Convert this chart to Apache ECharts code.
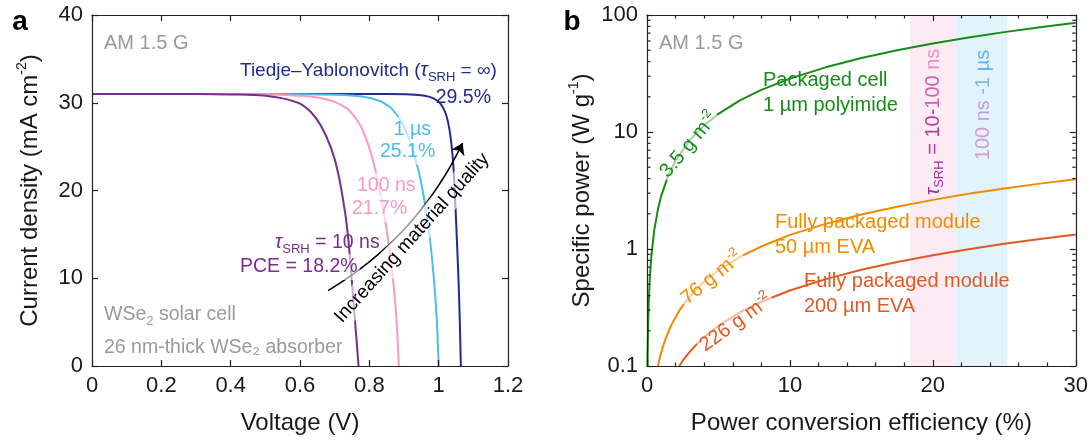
<!DOCTYPE html>
<html>
<head>
<meta charset="UTF-8">
<title>WSe2 solar cell</title>
<script src="https://cdn.jsdelivr.net/npm/echarts@6/dist/echarts.min.js"></script>
<style>html,body{margin:0;background:#fff}</style>
</head>
<body>
<div id="main" style="width:1091px;height:443px;"></div>
<script>
// panel a : J-V curves, [voltage V, current density mA cm-2]
var jvTau10ns = [[0,31.0],[0.3,31.0],[0.4,30.95],[0.45,30.9],[0.5,30.8],[0.55,30.5],[0.6,29.9],[0.63,29.0],[0.66,27.4],[0.69,24.8],[0.71,22.0],[0.73,17.5],[0.74,14.2],[0.75,9.5],[0.76,4.5],[0.769,0]];
var jvTau100ns = [[0,31.0],[0.4,31.0],[0.5,30.95],[0.6,30.8],[0.65,30.6],[0.7,30.1],[0.74,29.2],[0.77,27.7],[0.79,26.0],[0.81,23.5],[0.83,20.0],[0.85,15.5],[0.865,11.0],[0.875,7.0],[0.881,3.5],[0.885,0]];
var jvTau1us = [[0,31.0],[0.5,31.0],[0.7,30.9],[0.78,30.7],[0.83,30.2],[0.86,29.5],[0.89,28.0],[0.91,26.4],[0.93,24.0],[0.95,20.8],[0.97,16.0],[0.985,10.5],[0.995,5.0],[1.0,0]];
var jvTY = [[0,31.0],[0.85,31.0],[0.92,30.95],[0.96,30.8],[0.985,30.5],[1.005,29.9],[1.02,28.8],[1.03,27.2],[1.037,25.2],[1.043,22.5],[1.048,18.5],[1.053,14.0],[1.058,9.0],[1.061,5.0],[1.064,0]];
var qualityArrow = [[0.681, 8.6], [1.069, 25.4]];

// panel b : specific power, [PCE %, W g-1]
var spCell = [[0.035,0.1],[0.05,0.143],[0.08,0.229],[0.12,0.343],[0.2,0.571],[0.3,0.857],[0.5,1.43],[0.75,2.14],[1,2.86],[1.5,4.29],[2,5.71],[3,8.57],[4,11.4],[5,14.3],[6.5,18.6],[8,22.9],[10,28.6],[12.5,35.7],[15,42.9],[17.5,50],[20,57.1],[22.5,64.3],[25,71.4],[27.5,78.6],[30,85.7]];
var spModule50 = [[0.76,0.1],[0.9,0.118],[1.1,0.145],[1.4,0.184],[1.8,0.237],[2.3,0.303],[3,0.395],[4,0.526],[5,0.658],[6.5,0.855],[8,1.05],[10,1.32],[12.5,1.64],[15,1.97],[17.5,2.3],[20,2.63],[22.5,2.96],[25,3.29],[27.5,3.62],[30,3.95]];
var spModule200 = [[2.26,0.1],[2.5,0.111],[2.9,0.128],[3.4,0.15],[4,0.177],[5,0.221],[6.5,0.288],[8,0.354],[10,0.442],[12.5,0.553],[15,0.664],[17.5,0.774],[20,0.885],[22.5,0.996],[25,1.11],[27.5,1.22],[30,1.33]];
var bandTau10to100ns = [18.4, 21.6];
var bandTau100nsTo1us = [21.6, 25.2];
var logMinorTicks = [0.2,0.3,0.4,0.5,0.6,0.7,0.8,0.9,2,3,4,5,6,7,8,9,20,30,40,50,60,70,80,90];

var FONT = 'Liberation Sans';
var INK = '#1a1a1a';
var GRAY = '#9a9a9a';
var C = {
  navy: '#1f2d8c', cyan: '#4fbdec', pink: '#f79ac6', purple: '#7b2c8f',
  green: '#168c16', orange: '#f08c00', red: '#df5a24'
};

var chart = echarts.init(document.getElementById('main'));

var richBase = {
  t: {fontStyle: 'italic', fontFamily: FONT, fontSize: 19.5, lineHeight: 26},
  s: {fontSize: 13, lineHeight: 13, verticalAlign: 'bottom', fontFamily: FONT},
  p: {fontSize: 13, lineHeight: 13, verticalAlign: 'top', fontFamily: FONT}
};

function frameAxes(gridIdx, pos, extra) {
  var o = {
    gridIndex: gridIdx, position: pos, z: 5,
    axisLine: {show: true, onZero: false, lineStyle: {color: '#222', width: 1.2}},
    axisTick: {show: true, inside: true, length: 6, lineStyle: {color: '#222', width: 1.2}},
    splitLine: {show: false},
    axisLabel: {show: false}
  };
  for (var k in extra) o[k] = extra[k];
  return o;
}
var tickLabel = {show: true, fontSize: 22, color: INK, fontFamily: FONT, margin: 9};
var nameStyle = {
  fontSize: 24, color: INK, fontFamily: FONT, lineHeight: 30,
  rich: {p: {fontSize: 14, lineHeight: 14, verticalAlign: 'top', fontFamily: FONT, color: INK}}
};

function txt(x, y, text, color, opts) {
  opts = opts || {};
  return {
    type: 'text', x: x, y: y, rotation: opts.rot || 0, z: 50,
    style: {
      text: text, fill: color, font: (opts.size || 20) + 'px "' + FONT + '"',
      fontSize: opts.size || 20, fontFamily: FONT,
      align: opts.align || 'left', verticalAlign: 'middle', lineHeight: 26,
      backgroundColor: opts.bg || null, padding: opts.bg ? [0, 2] : 0,
      rich: richBase
    }
  };
}
var deg = Math.PI / 180;
var halo = 'rgba(255,255,255,0.6)';

var option = {
  animation: false,
  backgroundColor: '#fff',
  grid: [
    {left: 92, top: 15, width: 416, height: 358},
    {left: 647, top: 15, width: 429, height: 358}
  ],
  xAxis: [
    frameAxes(0, 'bottom', {type: 'value', min: 0, max: 1.2, interval: 0.2, axisLabel: tickLabel,
      name: 'Voltage (V)', nameLocation: 'middle', nameGap: 42, nameTextStyle: nameStyle}),
    frameAxes(0, 'top', {type: 'value', min: 0, max: 1.2, interval: 0.2}),
    frameAxes(1, 'bottom', {type: 'value', min: 0, max: 30, interval: 10, axisLabel: tickLabel,
      minorTick: {show: true, splitNumber: 5, length: 3.5, lineStyle: {color: '#222', width: 1.2}},
      name: 'Power conversion efficiency (%)', nameLocation: 'middle', nameGap: 42, nameTextStyle: nameStyle}),
    frameAxes(1, 'top', {type: 'value', min: 0, max: 30, interval: 10,
      minorTick: {show: true, splitNumber: 5, length: 3.5, lineStyle: {color: '#222', width: 1.2}}})
  ],
  yAxis: [
    frameAxes(0, 'left', {type: 'value', min: 0, max: 40, interval: 10, axisLabel: tickLabel,
      name: 'Current density (mA cm{p|-2})', nameLocation: 'middle', nameGap: 47, nameTextStyle: nameStyle}),
    frameAxes(0, 'right', {type: 'value', min: 0, max: 40, interval: 10}),
    frameAxes(1, 'left', {type: 'log', logBase: 10, min: 0.1, max: 100,
      axisLabel: {show: true, fontSize: 22, color: INK, fontFamily: FONT, margin: 9,
        formatter: function (v) { return String(+v.toPrecision(3)); }},
      name: 'Specific power (W g{p|-1})', nameLocation: 'middle', nameGap: 48, nameTextStyle: nameStyle}),
    frameAxes(1, 'right', {type: 'log', logBase: 10, min: 0.1, max: 100})
  ],
  series: [
    {type: 'line', xAxisIndex: 0, yAxisIndex: 0, data: jvTY, showSymbol: false, smooth: 0.2, z: 3,
      lineStyle: {color: C.navy, width: 2}},
    {type: 'line', xAxisIndex: 0, yAxisIndex: 0, data: jvTau1us, showSymbol: false, smooth: 0.2, z: 3,
      lineStyle: {color: C.cyan, width: 2}},
    {type: 'line', xAxisIndex: 0, yAxisIndex: 0, data: jvTau100ns, showSymbol: false, smooth: 0.2, z: 3,
      lineStyle: {color: C.pink, width: 2}},
    {type: 'line', xAxisIndex: 0, yAxisIndex: 0, data: jvTau10ns, showSymbol: false, smooth: 0.2, z: 3,
      lineStyle: {color: C.purple, width: 2}},
    {type: 'lines', coordinateSystem: 'cartesian2d', xAxisIndex: 0, yAxisIndex: 0, z: 4,
      symbol: ['none', 'arrow'], symbolSize: [8, 11],
      lineStyle: {color: '#000', width: 1.5, curveness: -0.15, opacity: 1},
      data: [{coords: qualityArrow}]},
    // shaded lifetime bands
    {type: 'line', xAxisIndex: 2, yAxisIndex: 2, data: spCell, showSymbol: false, silent: true, z: 1,
      lineStyle: {opacity: 0},
      markArea: {silent: true, data: [
        [{xAxis: bandTau10to100ns[0], itemStyle: {color: '#fdebf4'}}, {xAxis: bandTau10to100ns[1]}],
        [{xAxis: bandTau100nsTo1us[0], itemStyle: {color: '#e2f3fb'}}, {xAxis: bandTau100nsTo1us[1]}]
      ]}},
    {type: 'line', xAxisIndex: 2, yAxisIndex: 2, data: spCell, showSymbol: false, z: 3,
      lineStyle: {color: C.green, width: 2}},
    {type: 'line', xAxisIndex: 2, yAxisIndex: 2, data: spModule50, showSymbol: false, z: 3,
      lineStyle: {color: C.orange, width: 2}},
    {type: 'line', xAxisIndex: 2, yAxisIndex: 2, data: spModule200, showSymbol: false, z: 3,
      lineStyle: {color: C.red, width: 2}},
    // minor decade ticks of the log axis, both sides
    {type: 'custom', xAxisIndex: 2, yAxisIndex: 2, z: 6, silent: true,
      data: logMinorTicks.map(function (v) { return [0, v]; }),
      renderItem: function (params, api) {
        var cs = params.coordSys;
        var y = api.coord([0, api.value(1)])[1];
        var st = {stroke: '#222', lineWidth: 1.2};
        return {type: 'group', children: [
          {type: 'line', shape: {x1: cs.x, y1: y, x2: cs.x + 3.5, y2: y}, style: st},
          {type: 'line', shape: {x1: cs.x + cs.width - 3.5, y1: y, x2: cs.x + cs.width, y2: y}, style: st}
        ]};
      }}
  ],
  graphic: [
    {type: 'text', x: 20, y: 22, z: 50, style: {text: 'a', font: 'bold 28px "' + FONT + '"', fill: '#000', align: 'center', verticalAlign: 'middle'}},
    {type: 'text', x: 572, y: 22, z: 50, style: {text: 'b', font: 'bold 28px "' + FONT + '"', fill: '#000', align: 'center', verticalAlign: 'middle'}},
    // panel a
    txt(104, 43, 'AM 1.5 G', GRAY),
    txt(240, 71, 'Tiedje–Yablonovitch ({t|τ}{s|SRH} = ∞)', C.navy, {size: 19}),
    txt(491, 98, '29.5%', C.navy, {align: 'right', size: 19.5}),
    txt(433, 130, '1 µs', C.cyan, {align: 'right', size: 19.5, bg: halo}),
    txt(378, 152, '25.1%', C.cyan, {size: 19.5, bg: halo}),
    txt(355, 186, '100 ns', C.pink, {size: 19.5, bg: halo}),
    txt(350, 209, '21.7%', C.pink, {size: 19.5, bg: halo}),
    txt(275, 243, '{t|τ}{s|SRH} = 10 ns', C.purple, {size: 19.5}),
    txt(238, 267, 'PCE = 18.2%', C.purple, {size: 19.5, bg: halo}),
    txt(104, 315, 'WSe{s|2} solar cell', GRAY, {size: 19.5}),
    txt(104, 348, '26 nm-thick WSe₂ absorber', GRAY, {size: 19.5}),
    txt(412, 238, 'Increasing material quality', '#000', {align: 'center', size: 19, rot: 48 * deg, bg: halo}),
    // panel b
    txt(659, 43, 'AM 1.5 G', GRAY),
    txt(763, 80, 'Packaged cell', C.green),
    txt(763, 105, '1 µm polyimide', C.green),
    txt(689, 145, '3.5 g m{p|-2}', C.green, {align: 'center', rot: 50 * deg, bg: halo}),
    txt(775, 222, 'Fully packaged module', C.orange),
    txt(775, 247, '50 µm EVA', C.orange),
    txt(712, 278, '76 g m{p|-2}', C.orange, {align: 'center', rot: 39 * deg, bg: halo}),
    txt(804, 281, 'Fully packaged module', C.red),
    txt(804, 306, '200 µm EVA', C.red),
    txt(736, 323, '226 g m{p|-2}', C.red, {align: 'center', rot: 36 * deg, bg: halo}),
    {type: 'text', x: 933, y: 122, rotation: 90 * deg, z: 50, style: {
      text: '{a|τ}{s|SRH}{b| = 10-}{c|100 }{d|ns}', align: 'center', verticalAlign: 'middle', lineHeight: 26,
      font: '20px "' + FONT + '"',
      rich: {
        a: {fontStyle: 'italic', fontSize: 20, fontFamily: FONT, fill: '#9c2c9a', lineHeight: 26},
        s: {fontSize: 13, lineHeight: 13, verticalAlign: 'bottom', fontFamily: FONT, fill: '#a2309c'},
        b: {fontSize: 20, fontFamily: FONT, fill: '#b63aa5'},
        c: {fontSize: 20, fontFamily: FONT, fill: '#d45bb5'},
        d: {fontSize: 20, fontFamily: FONT, fill: '#ee8ac6'}
      }}},
    {type: 'text', x: 983, y: 105, rotation: 90 * deg, z: 50, style: {
      text: '{a|100 }{b|ns }{c|-1 }{d|µs}', align: 'center', verticalAlign: 'middle', lineHeight: 26,
      font: '20px "' + FONT + '"',
      rich: {
        a: {fontSize: 20, fontFamily: FONT, fill: '#d69ad0'},
        b: {fontSize: 20, fontFamily: FONT, fill: '#bba3da'},
        c: {fontSize: 20, fontFamily: FONT, fill: '#92b2e2'},
        d: {fontSize: 20, fontFamily: FONT, fill: '#5db8ea'}
      }}}
  ]
};
chart.setOption(option);
</script>
</body>
</html>
